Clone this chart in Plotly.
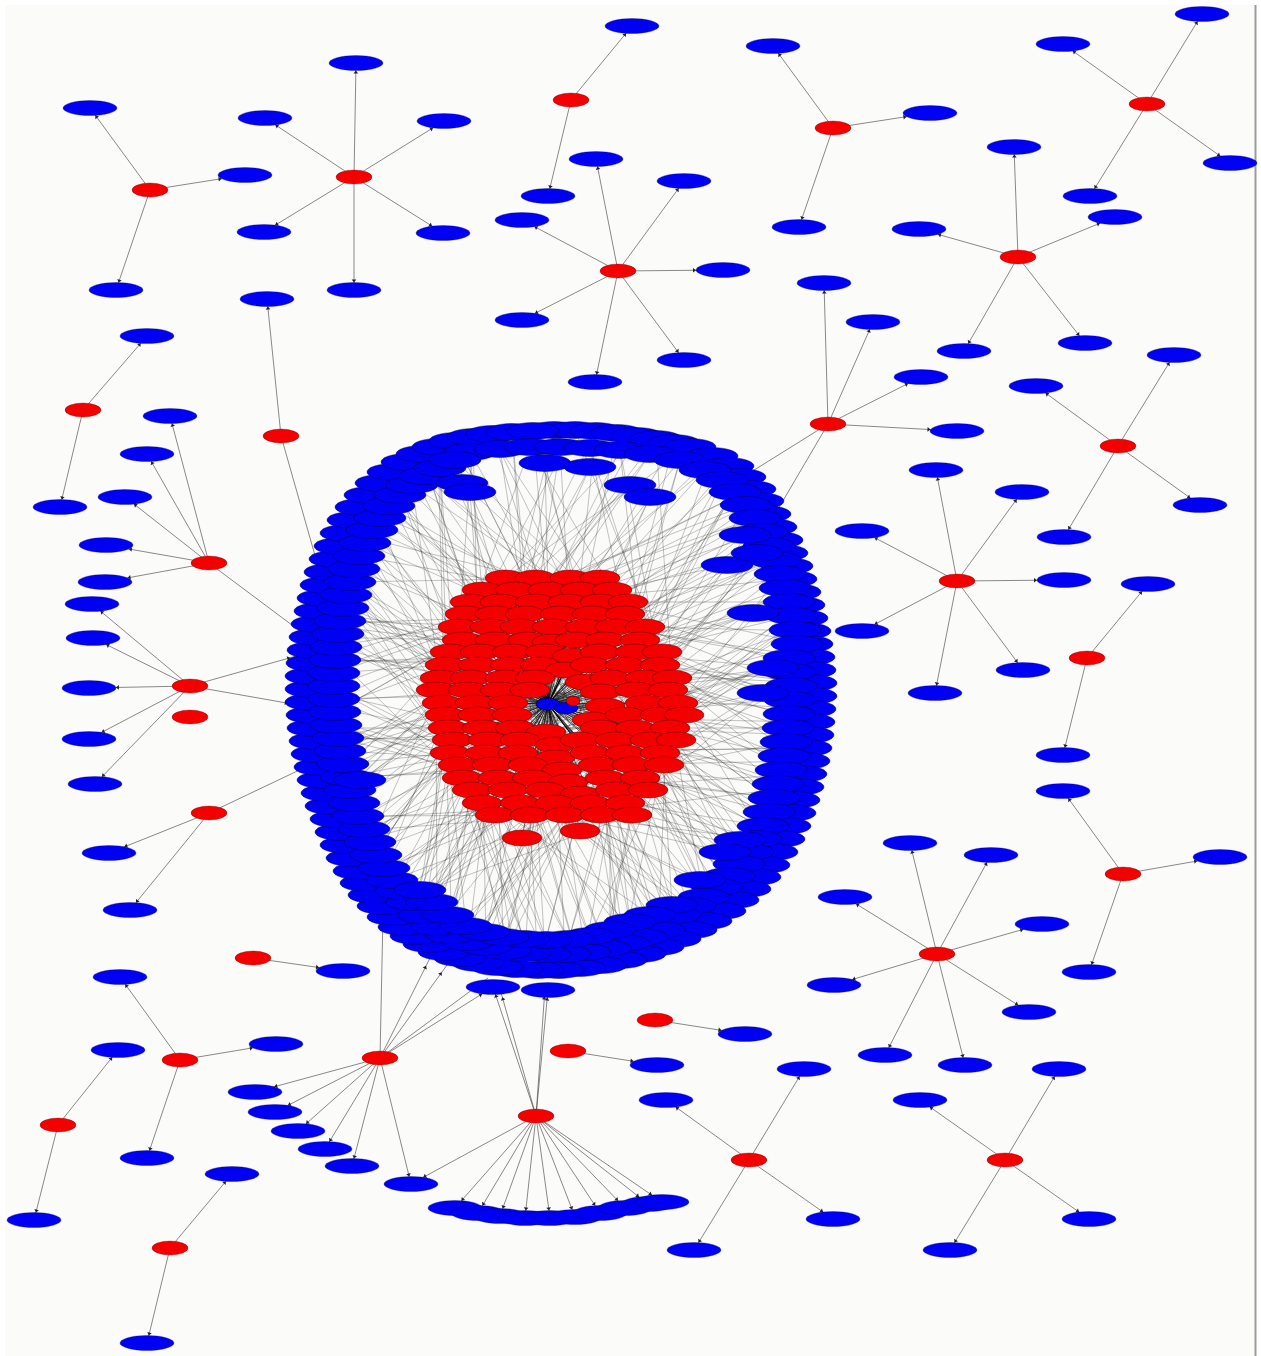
import math
import plotly.graph_objects as go

# ---- peripheral stars: a red source node and the blue nodes it points to ----
star_hubs = [
    (150, 190), (354, 177), (571, 100), (618, 271), (833, 128), (1147, 104),
    (1018, 257), (828, 424), (83, 410), (281, 436), (1118, 446), (209, 563),
    (190, 686), (957, 581), (1087, 658), (1123, 874), (937, 954), (209, 813),
    (253, 958), (180, 1060), (58, 1125), (170, 1248), (380, 1058), (536, 1116),
    (655, 1020), (568, 1051), (749, 1160), (1005, 1160),
]
star_leaves = [
    [(90, 108), (245, 175), (116, 290)],
    [(356, 63), (265, 118), (444, 121), (264, 232), (443, 233), (354, 290)],
    [(632, 26), (548, 196)],
    [(596, 159), (684, 181), (522, 220), (723, 270), (522, 320), (684, 360), (595, 382)],
    [(773, 46), (930, 113), (799, 227)],
    [(1202, 14), (1063, 44), (1230, 163), (1090, 196)],
    [(1014, 147), (919, 229), (1115, 217), (1085, 343), (964, 351)],
    [(824, 283), (873, 322), (921, 377), (957, 431)],
    [(147, 336), (60, 507)],
    [(267, 299)],
    [(1174, 355), (1036, 386), (1200, 505), (1064, 537)],
    [(170, 416), (147, 454), (125, 497), (106, 545), (105, 582)],
    [(92, 604), (93, 638), (89, 688), (89, 739), (95, 784)],
    [(936, 470), (1022, 492), (862, 531), (1064, 580), (862, 631), (1023, 670), (935, 693)],
    [(1148, 584), (1063, 755)],
    [(1063, 791), (1220, 857), (1089, 972)],
    [(910, 843), (991, 855), (845, 897), (1042, 924), (834, 985), (1029, 1012), (885, 1055), (965, 1065)],
    [(109, 853), (130, 910)],
    [(343, 971)],
    [(120, 977), (276, 1044), (147, 1158)],
    [(118, 1050), (34, 1220)],
    [(232, 1174), (147, 1343)],
    [(493, 987), (255, 1092), (275, 1112), (298, 1131), (325, 1149), (352, 1166), (411, 1184)],
    [(493, 987), (548, 990), (411, 1184), (455, 1208), (478, 1213), (500, 1216), (525, 1218),
     (550, 1218), (575, 1217), (600, 1213), (625, 1208), (648, 1204), (662, 1202)],
    [(745, 1034)],
    [(657, 1065)],
    [(666, 1100), (804, 1069), (833, 1219), (694, 1250)],
    [(920, 1100), (1059, 1069), (1089, 1219), (950, 1250)],
]
# links from peripheral sources into the blue ring
star_ring_links = [
    ((828, 424), (735, 482)), ((828, 424), (767, 528)), ((281, 436), (318, 566)),
    ((209, 563), (312, 640)), ((190, 686), (300, 655)), ((190, 686), (298, 705)),
    ((209, 813), (310, 765)), ((380, 1058), (383, 915)), ((380, 1058), (430, 958)),
    ((380, 1058), (447, 965)), ((380, 1058), (488, 978)),
    ((536, 1116), (500, 989)), ((536, 1116), (545, 988)),
]
lone_red = [(190, 717)]

# ---- central component ----
# outer lane of the blue ring, clockwise from the top
ring_outer = [
    (554, 430), (575, 430), (596, 431), (617, 433), (637, 436), (656, 439), (674, 443),
    (690, 447), (712, 456), (728, 466), (740, 477), (750, 489), (758, 501), (765, 514),
    (771, 527), (777, 540), (782, 553), (787, 566), (791, 579), (795, 592), (799, 605),
    (802, 618), (805, 631), (807, 644), (809, 657), (810, 670), (811, 683), (811, 696),
    (810, 709), (809, 722), (808, 735), (806, 748), (804, 761), (801, 774), (798, 787),
    (794, 800), (790, 813), (785, 826), (779, 839), (772, 852), (764, 865), (755, 877),
    (745, 889), (733, 900), (720, 911), (706, 921), (691, 930), (675, 939), (658, 947),
    (640, 954), (621, 960), (601, 965), (580, 968), (559, 970), (538, 970), (517, 969),
    (497, 967), (478, 963), (460, 958), (444, 952), (429, 944), (416, 936), (404, 927),
    (393, 917), (383, 906), (374, 895), (366, 883), (359, 871), (352, 858), (346, 845),
    (341, 832), (336, 819), (331, 806), (327, 793), (323, 780), (320, 767), (317, 754),
    (315, 741), (313, 728), (312, 715), (311, 702), (311, 689), (311, 676), (312, 663),
    (313, 650), (315, 637), (317, 624), (320, 611), (323, 598), (326, 585), (330, 572),
    (335, 559), (340, 546), (346, 533), (353, 520), (361, 507), (370, 495), (381, 483),
    (393, 472), (407, 462), (422, 454), (438, 447), (455, 441), (473, 437), (492, 434),
    (512, 432), (533, 431),
]
# second lane, just inside the first
ring_inner = [
    (470, 452), (500, 449), (530, 447), (560, 447), (590, 448), (620, 450), (650, 454),
    (680, 460), (705, 470), (722, 480), (735, 492), (746, 505), (755, 518), (762, 532),
    (769, 546), (775, 560), (780, 574), (785, 588), (789, 602), (792, 616), (795, 630),
    (797, 644), (789, 658), (790, 672), (791, 686), (790, 700), (789, 714), (788, 728),
    (786, 742), (784, 756), (781, 770), (778, 784), (774, 798), (769, 812), (763, 826),
    (756, 839), (748, 852), (739, 864), (729, 876), (717, 887), (704, 897), (690, 906),
    (675, 915), (659, 930), (642, 937), (624, 943), (605, 948), (585, 952), (565, 954),
    (545, 954), (525, 953), (505, 951), (486, 947), (468, 942), (452, 935), (437, 927),
    (424, 915), (412, 902), (401, 891), (392, 880), (384, 868), (376, 855), (370, 842),
    (364, 829), (358, 816), (354, 803), (350, 790), (346, 777), (343, 764), (340, 751),
    (338, 738), (336, 725), (335, 712), (334, 699), (334, 686), (334, 673), (335, 660),
    (336, 647), (338, 634), (340, 621), (343, 608), (346, 595), (350, 582), (354, 569),
    (359, 556), (365, 543), (372, 530), (380, 518), (389, 506), (400, 495), (412, 485),
    (425, 476), (440, 468), (455, 460),
]
# nodes that sit a little inside the band
ring_spurs = [
    (462, 483), (470, 492), (545, 463), (590, 467), (630, 485), (650, 497),
    (727, 565), (753, 613), (773, 668), (763, 693), (745, 535), (757, 553),
    (740, 840), (725, 852), (700, 880), (672, 905), (650, 915), (630, 922),
    (610, 930), (590, 936), (568, 939), (546, 940), (524, 939), (503, 937),
    (484, 932), (466, 926), (448, 915), (432, 902), (420, 890), (360, 780),
]
ring_nodes = ring_outer + ring_inner + ring_spurs

core_nodes = [
    (505, 578), (535, 578), (570, 578), (600, 578),
    (482, 590), (515, 590), (548, 590), (580, 590), (612, 590),
    (470, 602), (500, 602), (535, 602), (568, 602), (600, 602), (628, 602),
    (465, 614), (495, 614), (525, 614), (560, 614), (592, 614), (625, 614),
    (458, 627), (490, 627), (520, 627), (552, 627), (585, 627), (615, 627), (645, 627),
    (462, 640), (495, 640), (528, 640), (552, 642), (575, 640), (605, 640), (640, 640),
    (450, 652), (480, 652), (512, 652), (545, 652), (572, 656), (600, 652), (635, 652), (662, 652),
    (445, 665), (478, 665), (510, 665), (540, 665), (565, 670), (590, 665), (625, 665), (660, 665),
    (440, 678), (470, 678), (505, 678), (535, 678), (585, 682), (610, 678), (645, 678), (672, 678),
    (436, 690), (468, 690), (500, 690), (530, 690), (600, 692), (635, 690), (668, 690),
    (442, 703), (475, 703), (508, 703), (605, 706), (645, 703), (678, 703),
    (445, 715), (478, 715), (512, 715), (592, 720), (625, 715), (660, 715), (684, 715),
    (448, 728), (482, 728), (515, 728), (546, 732), (600, 728), (635, 728), (670, 728),
    (452, 740), (488, 740), (520, 740), (555, 745), (580, 740), (615, 740), (650, 740), (676, 740),
    (450, 753), (485, 753), (518, 753), (555, 758), (590, 753), (625, 753), (660, 753),
    (458, 765), (492, 765), (528, 765), (562, 770), (598, 765), (632, 765), (664, 765),
    (462, 778), (498, 778), (532, 778), (568, 782), (605, 778), (640, 778),
    (472, 790), (508, 790), (545, 790), (580, 794), (615, 790), (648, 790),
    (482, 803), (520, 803), (555, 803), (590, 803), (625, 803),
    (495, 815), (530, 815), (565, 815), (600, 815), (632, 815),
    (522, 838), (580, 831),
]
hub_blue = [(548, 704), (566, 708)]
hub_red = [(573, 701)]

# ---- styles ----
BLUE = "#0000f2"
RED = "#f40000"
BG = "#fbfcfa"
W = 1261
H = 1356
LEAF_RX, LEAF_RY = 27, 7.5
SRC_RX, SRC_RY = 18, 7
RING_RX, RING_RY = 26, 8.5
CORE_RX, CORE_RY = 20, 8


def ellipse(cx, cy, rx, ry, color, edge):
    return dict(type="circle", xref="x", yref="y", layer="above",
                x0=cx - rx, x1=cx + rx, y0=cy - ry, y1=cy + ry,
                fillcolor=color, line=dict(color=edge, width=0.6))


def boundary(src, dst, rx, ry, back=0.0):
    dx, dy = dst[0] - src[0], dst[1] - src[1]
    d = math.hypot(dx, dy) or 1.0
    ux, uy = dx / d, dy / d
    t = 1.0 / math.sqrt((ux / rx) ** 2 + (uy / ry) ** 2)
    return (dst[0] - ux * (t + back), dst[1] - uy * (t + back))


fig = go.Figure()

# edges of the central component: ring -> core, core -> hub
ex, ey = [], []
n_core = len(core_nodes)
for i, (rx_, ry_) in enumerate(ring_nodes):
    for k, off in ((37, 5), (11, 17)):
        cx, cy = core_nodes[(i * k + off) % n_core]
        ex += [rx_, cx, None]
        ey += [ry_, cy, None]
fig.add_trace(go.Scatter(x=ex, y=ey, mode="lines", hoverinfo="skip",
                         line=dict(color="rgba(40,40,40,0.5)", width=0.55)))

hx, hy = [], []
for cx, cy in core_nodes:
    hx += [hub_blue[0][0], cx, None]
    hy += [hub_blue[0][1], cy, None]
fig.add_trace(go.Scatter(x=hx, y=hy, mode="lines", hoverinfo="skip",
                         line=dict(color="rgba(0,0,0,0.85)", width=0.7)))

# peripheral edges with small arrow heads at the target
px, py, ax, ay, aang = [], [], [], [], []
pairs = []
for hub, leaves in zip(star_hubs, star_leaves):
    for leaf in leaves:
        pairs.append((hub, leaf, LEAF_RX, LEAF_RY))
for hub, tgt in star_ring_links:
    pairs.append((hub, tgt, RING_RX * 0.4, RING_RY))
for src, dst, rx, ry in pairs:
    px += [src[0], dst[0], None]
    py += [src[1], dst[1], None]
    bx, by = boundary(src, dst, rx, ry, back=2.0)
    ax.append(bx)
    ay.append(by)
    aang.append(math.degrees(math.atan2(dst[0] - src[0], -(dst[1] - src[1]))))
fig.add_trace(go.Scatter(x=px, y=py, mode="lines", hoverinfo="skip",
                         line=dict(color="rgba(70,70,70,0.8)", width=0.8)))
fig.add_trace(go.Scatter(x=ax, y=ay, mode="markers", hoverinfo="skip",
                         marker=dict(symbol="triangle-up", size=4, angle=aang,
                                     color="#222222", line=dict(width=0))))

shapes = [
    dict(type="rect", xref="x", yref="y", layer="below", x0=5, x1=1254, y0=5, y1=H,
         fillcolor=BG, line=dict(width=0)),
    dict(type="line", xref="x", yref="y", layer="above", x0=1255.5, x1=1255.5, y0=5, y1=H,
         line=dict(color="#9a9c9a", width=2)),
]
for x, y in ring_nodes:
    shapes.append(ellipse(x, y, RING_RX, RING_RY, BLUE, "rgba(0,0,60,0.7)"))
for x, y in core_nodes:
    shapes.append(ellipse(x, y, CORE_RX, CORE_RY, RED, "rgba(70,0,0,0.7)"))
for x, y in hub_blue:
    shapes.append(ellipse(x, y, 12, 6, BLUE, "rgba(0,0,0,0.9)"))
for x, y in hub_red:
    shapes.append(ellipse(x, y, 7, 5, RED, "rgba(0,0,0,0.9)"))
seen = set()
for leaves in star_leaves:
    for leaf in leaves:
        if leaf in seen:
            continue
        seen.add(leaf)
        shapes.append(ellipse(leaf[0], leaf[1], LEAF_RX, LEAF_RY, BLUE, "rgba(0,0,80,0.5)"))
for x, y in star_hubs + lone_red:
    shapes.append(ellipse(x, y, SRC_RX, SRC_RY, RED, "rgba(90,0,0,0.5)"))

fig.update_layout(
    width=W, height=H,
    margin=dict(l=0, r=0, t=0, b=0),
    paper_bgcolor="white", plot_bgcolor="white",
    showlegend=False,
    shapes=shapes,
    xaxis=dict(range=[0, W], visible=False, fixedrange=True),
    yaxis=dict(range=[H, 0], visible=False, fixedrange=True),
)

fig.write_html("out.html", config={"displayModeBar": False})
